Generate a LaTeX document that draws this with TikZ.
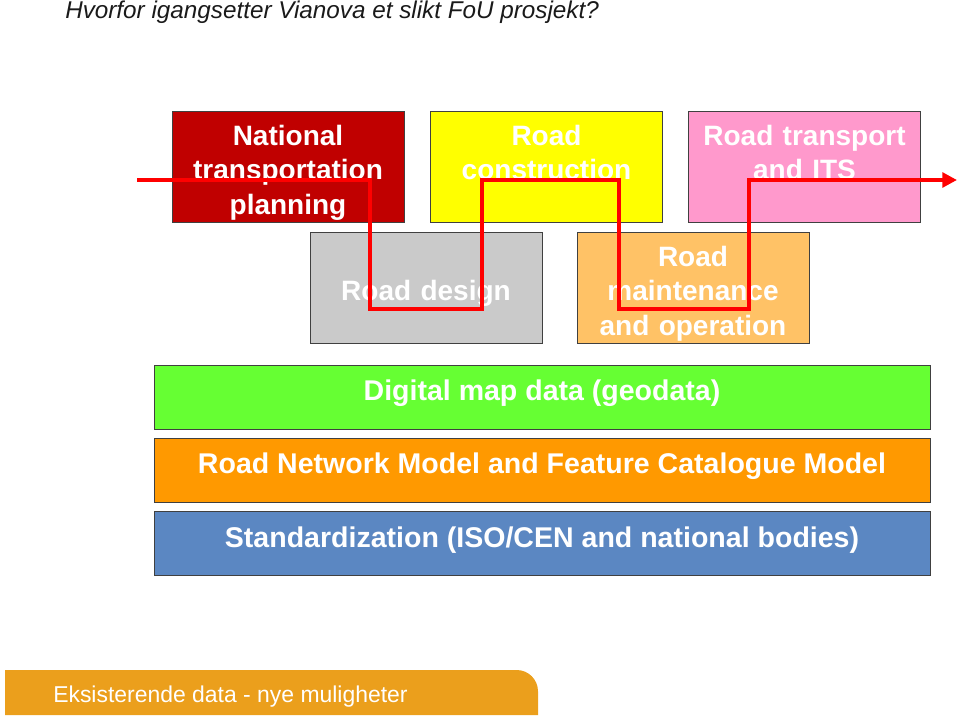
\documentclass[tikz,border=0pt]{standalone}
\usepackage{fontspec}
\setmainfont{Liberation Sans}
\usetikzlibrary{arrows.meta}
\definecolor{planred}{HTML}{C00000}
\definecolor{buildyellow}{HTML}{FFFF00}
\definecolor{itspink}{HTML}{FF99CC}
\definecolor{designgray}{HTML}{CACACA}
\definecolor{upkeeporange}{HTML}{FFC266}
\definecolor{geogreen}{HTML}{66FF33}
\definecolor{modelorange}{HTML}{FF9900}
\definecolor{isoblue}{HTML}{5B87C2}
\definecolor{footerorange}{HTML}{EB9F1C}
\definecolor{titlegray}{HTML}{1A1A1A}
\tikzset{
  box/.style={draw=black!75, line width=0.75pt, inner sep=0pt,
    minimum width=174pt, minimum height=83.25pt},
  bar/.style={draw=black!75, line width=0.75pt, inner sep=0pt,
    minimum width=582pt, minimum height=48pt},
  boxtext/.style={text=white, inner sep=0pt, text width=172pt, align=center,
    font=\fontsize{21}{25.9}\selectfont\bfseries},
  bartext/.style={text=white, inner sep=0pt, anchor=base,
    font=\fontsize{21.4}{26}\selectfont\bfseries},
  route/.style={draw=red, line width=3.4pt, line join=miter,
    -{Triangle[length=11pt,width=11pt]}}
}
\begin{document}
\begin{tikzpicture}[x=0.75pt,y=-0.75pt]
    \useasboundingbox (0,0) rectangle (960,717);
    % title
    \node[anchor=base west, inner sep=0pt, text=titlegray,
      font=\fontsize{18.2}{21}\selectfont\itshape] (title) at (65,19)
      {Hvorfor igangsetter Vianova et slikt FoU prosjekt?};
    % activity boxes
    \node[box, fill=planred] (plan) at (288,166.5) {};
    \node[box, fill=buildyellow] (build) at (546.5,166.5) {};
    \node[box, fill=itspink] (its) at (804.5,166.5) {};
    \node[box, fill=designgray] (design) at (426,287.5) {};
    \node[box, fill=upkeeporange] (upkeep) at (693,287.5) {};
    \node[boxtext, anchor=base] (plantext) at (288,145) {National\\transportation\\planning};
    \node[boxtext, anchor=base] (buildtext) at (546.5,145) {Road\\construction};
    \node[boxtext, anchor=base] (itstext) at (804.5,145) {Road transport\\and ITS};
    \node[boxtext, anchor=base] (designtext) at (426,300) {Road design};
    \node[boxtext, anchor=base] (upkeeptext) at (693,266) {Road\\maintenance\\and operation};
    % data layers
    \node[bar, fill=geogreen] (geo) at (542,397) {};
    \node[bar, fill=modelorange] (model) at (542,470) {};
    \node[bar, fill=isoblue] (iso) at (542,543.5) {};
    \node[bartext] (geotext) at (542,400) {Digital map data (geodata)};
    \node[bartext] (modeltext) at (542,473) {Road Network Model and Feature Catalogue Model};
    \node[bartext] (isotext) at (542,547) {Standardization (ISO/CEN and national bodies)};
    % red route through the boxes
    \coordinate (start) at (137,180);
    \coordinate (end) at (957,180);
    \coordinate (d1) at (370,309);
    \coordinate (u1) at (482,180);
    \coordinate (d2) at (619,309);
    \coordinate (u2) at (749,180);
    \draw[route] (start) -| (d1) -| (u1) -| (d2) -| (u2) -- (end);
    % footer
    \fill[footerorange] (5,715) -- (5,670) [rounded corners=16pt] -- (538,670)
      [sharp corners] -- (538,715) -- cycle;
    \node[anchor=base west, inner sep=0pt, text=white,
      font=\fontsize{17.2}{20}\selectfont] (footer) at (53,702)
      {Eksisterende data - nye muligheter};
\end{tikzpicture}
\end{document}
